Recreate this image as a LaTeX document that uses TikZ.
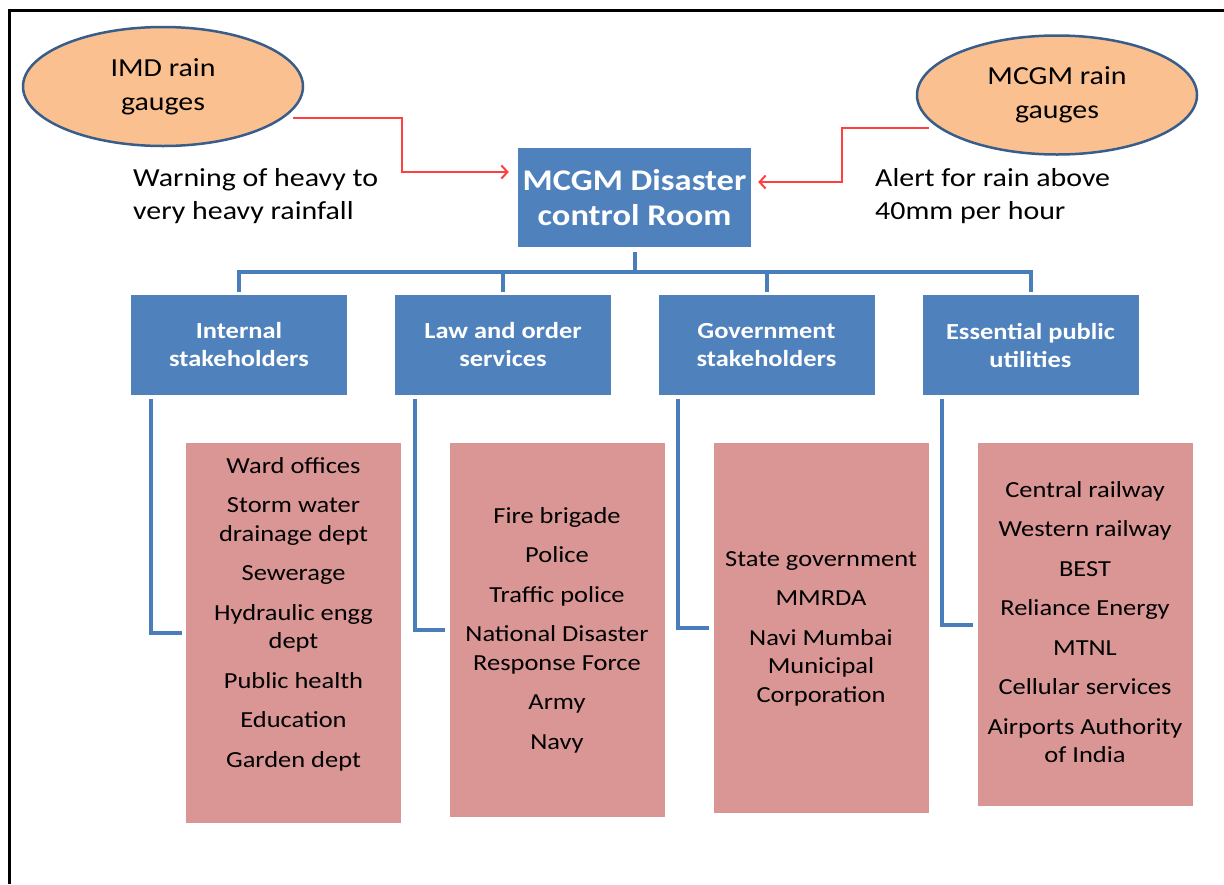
\documentclass[tikz,border=0pt]{standalone}
\usepackage{fontspec}
\setmainfont{Carlito}[FakeStretch=1.15]
\usetikzlibrary{shapes.geometric,arrows.meta}
\definecolor{boxblue}{HTML}{4F81BD}
\definecolor{linkblue}{HTML}{4A7EBB}
\definecolor{listpink}{HTML}{D99694}
\definecolor{gaugefill}{HTML}{FAC090}
\definecolor{gaugeline}{HTML}{385D8A}
\definecolor{alertred}{HTML}{FF4040}

\begin{document}
\begin{tikzpicture}[x=1pt,y=-1pt,
        gauge/.style={ellipse,draw=gaugeline,line width=2.5pt,fill=gaugefill,minimum width=280pt,minimum height=119pt,inner sep=0pt,align=center,font=\fontsize{26}{34}\selectfont},
        room/.style={rectangle,fill=boxblue,text=white,minimum width=233pt,minimum height=99pt,inner sep=0pt,align=center,font=\bfseries\fontsize{30}{35}\selectfont},
        head/.style={rectangle,fill=boxblue,text=white,minimum width=216pt,minimum height=100pt,inner sep=0pt,align=center,font=\bfseries\fontsize{23}{28}\selectfont},
        listbox/.style={rectangle,fill=listpink,minimum width=215pt,inner sep=0pt},
        listtext/.style={inner sep=0pt,align=center,font=\fontsize{23}{28.5}\selectfont},
        note/.style={inner sep=0pt,anchor=west,align=left,font=\fontsize{26}{33}\selectfont},
        link/.style={draw=linkblue,line width=4pt},
        alert/.style={draw=alertred,line width=2pt,-{Straight Barb[length=6pt,width=13pt]}}]

        \useasboundingbox (0,0) rectangle (1224,884);
        \draw[line width=2.5pt] (9.5,884) -- (9.5,10.5) -- (1224,10.5);

        \node[gauge] (IMD) at (163,86.5) {IMD rain\\gauges};
        \node[gauge] (MCGM) at (1057,95) {MCGM rain\\gauges};
        \node[room] (DCR) at (634.5,197.5) {MCGM Disaster\\control Room};
        \node[note] (WARN) at (133,196.5) {Warning of heavy to\\very heavy rainfall};
        \node[note] (ALERT) at (875,196.5) {Alert for rain above\\40mm per hour};

        \node[head] (INT) at (239,345) {Internal\\stakeholders};
        \node[head] (LAW) at (503,345) {Law and order\\services};
        \node[head] (GOV) at (766.5,345) {Government\\stakeholders};
        \node[head] (ESS) at (1030.5,345) {Essential public\\utilities};

        \node[listbox,minimum height=380pt] (INTL) at (293.5,633) {};
        \node[listbox,minimum height=374pt] (LAWL) at (557,630) {};
        \node[listbox,minimum height=370pt] (GOVL) at (821,628) {};
        \node[listbox,minimum height=363pt] (ESSL) at (1085,624.5) {};

        \node[listtext] (INTT) at (293.5,614) {Ward offices\\[11pt]Storm water\\drainage dept\\[11pt]Sewerage\\[11pt]Hydraulic engg\\dept\\[11pt]Public health\\[11pt]Education\\[11pt]Garden dept};
        \node[listtext] (LAWT) at (557,630) {Fire brigade\\[11pt]Police\\[11pt]Traffic police\\[11pt]National Disaster\\Response Force\\[11pt]Army\\[11pt]Navy};
        \node[listtext] (GOVT) at (821,628.5) {State government\\[11pt]MMRDA\\[11pt]Navi Mumbai\\Municipal\\Corporation};
        \node[listtext] (ESST) at (1085,622) {Central railway\\[11pt]Western railway\\[11pt]BEST\\[11pt]Reliance Energy\\[11pt]MTNL\\[11pt]Cellular services\\[11pt]Airports Authority\\of India};

        \draw[alert] ([xshift=-11pt,yshift=-31.5pt]IMD.east) -- ++(109,0) |- ([xshift=-9pt,yshift=25.5pt]DCR.west);
        \draw[alert] ([xshift=13pt,yshift=-33pt]MCGM.west) -- ++(-87,0) |- ([xshift=7pt,yshift=15.5pt]DCR.east);

        \coordinate (BUS) at (634.5,272);
        \draw[link] ([yshift=-5pt]DCR.south) -- (BUS);
        \draw[link,line cap=rect] (INT.north |- BUS) -- (ESS.north |- BUS);
        \draw[link] (INT.north |- BUS) -- ([yshift=3pt]INT.north);
        \draw[link] (LAW.north |- BUS) -- ([yshift=3pt]LAW.north);
        \draw[link] (GOV.north |- BUS) -- ([yshift=3pt]GOV.north);
        \draw[link] (ESS.north |- BUS) -- ([yshift=3pt]ESS.north);

        \draw[link] ([xshift=20pt,yshift=-4pt]INT.south west) |- ([xshift=-4pt]INTL.west);
        \draw[link] ([xshift=20pt,yshift=-4pt]LAW.south west) |- ([xshift=-4pt]LAWL.west);
        \draw[link] ([xshift=20pt,yshift=-4pt]GOV.south west) |- ([xshift=-4pt]GOVL.west);
        \draw[link] ([xshift=20pt,yshift=-4pt]ESS.south west) |- ([xshift=-4pt]ESSL.west);

    \end{tikzpicture}
\end{document}
